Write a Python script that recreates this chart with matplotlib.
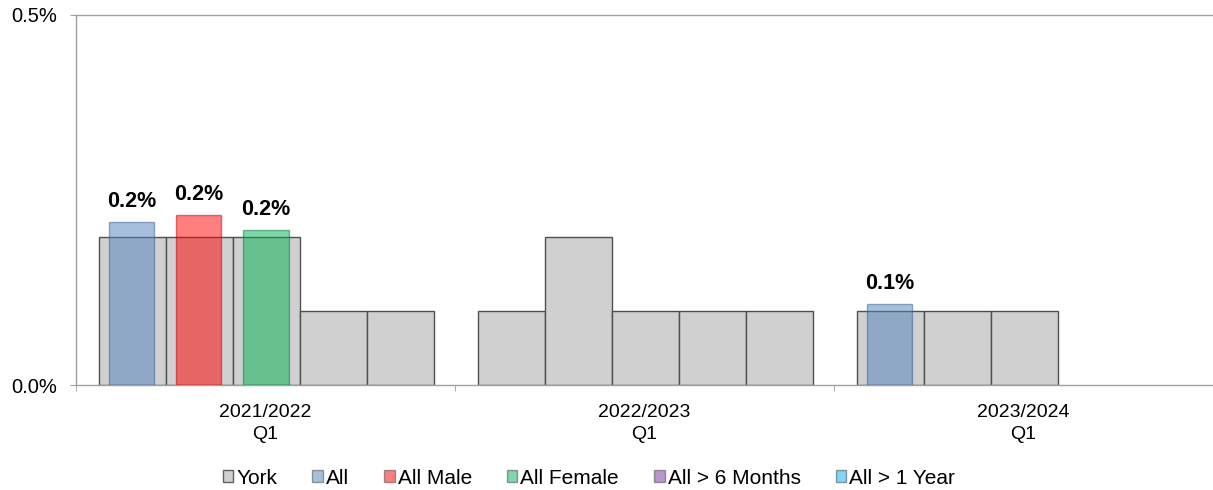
import numpy as np
import matplotlib
matplotlib.use("Agg")
import matplotlib.pyplot as plt
from matplotlib.patches import Patch
from matplotlib.ticker import FuncFormatter

plt.rcParams['font.family'] = ['Liberation Sans', 'DejaVu Sans']

categories = ["2021/2022\nQ1", "2022/2023\nQ1", "2023/2024\nQ1"]
series_names = ["All", "All Male", "All Female", "All > 6 Months", "All > 1 Year"]

# York comparison values (%), one list per series slot
york_all = [0.2, 0.1, 0.1]
york_male = [0.2, 0.2, 0.1]
york_female = [0.2, 0.1, 0.1]
york_6m = [0.1, 0.1, np.nan]
york_1y = [0.1, 0.1, np.nan]

# Series values (%)
all_vals = [0.22, np.nan, 0.11]
male_vals = [0.23, np.nan, np.nan]
female_vals = [0.21, np.nan, np.nan]
over6m_vals = [np.nan, np.nan, np.nan]
over1y_vals = [np.nan, np.nan, np.nan]

york = [york_all, york_male, york_female, york_6m, york_1y]
series = [all_vals, male_vals, female_vals, over6m_vals, over1y_vals]
colors = ["#4F81BD", "#FF0000", "#00B050", "#7030A0", "#00B0F0"]
edge_colors = ["#2F5A8F", "#C00000", "#007A38", "#4B1F6E", "#0079A8"]
york_face = "#D0D0D0"
axis_grey = "#A0A0A0"

W, H = 1213, 490
fig = plt.figure(figsize=(W / 100, H / 100), dpi=100)
L, T, B = 76, 15, 385
ax = fig.add_axes([L / W, 1 - B / H, 1 - L / W, (B - T) / H])

n = len(categories)
centers = np.arange(n) + 0.5
slot_w = 0.177
bar_w = 0.1195

for j in range(5):
    xs = centers + (j - 2) * slot_w + 0.002
    ax.bar(xs, york[j], width=slot_w, color=york_face, edgecolor="#505050",
           linewidth=1.0, zorder=2)

for j in range(5):
    xs = centers + (j - 2) * slot_w + 0.001
    vals = np.array(series[j], dtype=float)
    ax.bar(xs, vals, width=bar_w, color=colors[j], edgecolor=edge_colors[j],
           linewidth=1.0, alpha=0.5, zorder=3)
    for x, v in zip(xs, vals):
        if not np.isnan(v):
            ax.annotate(f"{v:.1f}%", (x, v), xytext=(0, 7), textcoords="offset points",
                        ha="center", va="bottom", fontsize=15.5, fontweight="bold",
                        color="black", zorder=5)

ax.set_xlim(0, n)
ax.set_ylim(0, 0.5)
ax.set_yticks([0, 0.5])
ax.yaxis.set_major_formatter(FuncFormatter(lambda v, p: f"{v:.1f}%"))
ax.set_xticks(centers)
ax.set_xticklabels(categories, fontsize=14, linespacing=1.4)
ax.set_xticks(np.arange(n + 1), minor=True)
ax.tick_params(axis="x", which="major", length=0, pad=13.5)
ax.tick_params(axis="x", which="minor", length=4.5, color=axis_grey, direction="out")
ax.tick_params(axis="y", length=4.5, color=axis_grey, labelsize=14.5, pad=9)

for s in ["left", "bottom", "top"]:
    ax.spines[s].set_color(axis_grey)
    ax.spines[s].set_linewidth(1.0)
ax.spines["right"].set_visible(False)

handles = [Patch(facecolor=york_face, edgecolor="#606060", label="York")]
for j in range(5):
    handles.append(Patch(facecolor=colors[j], edgecolor="#404040", alpha=0.5,
                         label=series_names[j]))
fig.legend(handles=handles, loc="center", bbox_to_anchor=(589 / W, 1 - 478 / H), ncol=6,
           frameon=False, fontsize=15, handlelength=0.5, handleheight=0.5,
           handletextpad=0.15, columnspacing=1.68, borderpad=0, borderaxespad=0)

fig.savefig("out.png", dpi=100)
